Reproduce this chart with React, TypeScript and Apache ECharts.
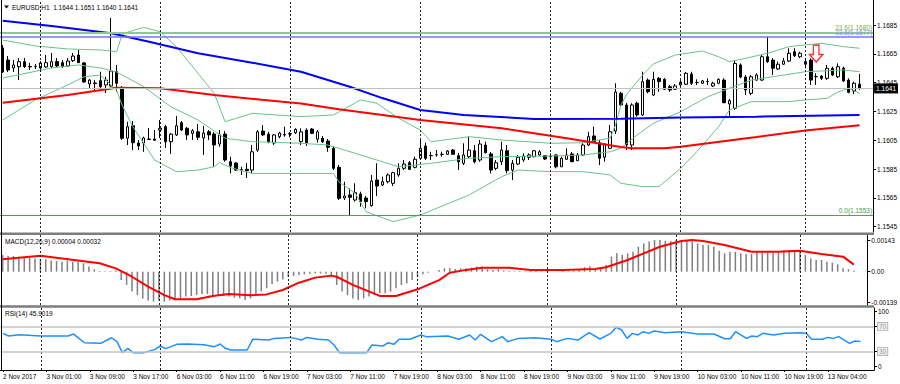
import React, { useEffect, useRef } from 'react';
import * as echarts from 'echarts';

// ---- time axis ----
const dayHours: [string, number, number][] = [
  ['2 Nov', 17, 23],
  ['3 Nov', 0, 21],
  ['6 Nov', 0, 23],
  ['7 Nov', 0, 23],
  ['8 Nov', 0, 23],
  ['9 Nov', 0, 23],
  ['10 Nov', 0, 22],
  ['13 Nov', 0, 12],
];
const firstLabel = '2 Nov 2017';
const xTickLabels = [
  '2 Nov 17:00', '3 Nov 01:00', '3 Nov 09:00', '3 Nov 17:00', '6 Nov 03:00', '6 Nov 11:00',
  '6 Nov 19:00', '7 Nov 03:00', '7 Nov 11:00', '7 Nov 19:00', '8 Nov 03:00', '8 Nov 11:00',
  '8 Nov 19:00', '9 Nov 03:00', '9 Nov 11:00', '9 Nov 19:00', '10 Nov 03:00', '10 Nov 11:00',
  '10 Nov 19:00', '13 Nov 04:00',
];

// ---- price candles (EURUSD H1) ----
const openP = [
  1.16691, 1.16607, 1.16552, 1.16561, 1.16596, 1.16562, 1.16561, 1.16552, 1.16559, 1.16561,
  1.16596, 1.16589, 1.16566, 1.16603, 1.16642, 1.16587, 1.16441, 1.16448, 1.16464, 1.16434,
  1.16427, 1.16526, 1.16413, 1.16064, 1.16151, 1.16031, 1.16031, 1.16055, 1.16059, 1.16121,
  1.16144, 1.16040, 1.16087, 1.16172, 1.16133, 1.16098, 1.16109, 1.16066, 1.16109, 1.16093,
  1.16024, 1.16093, 1.15901, 1.15892, 1.15843, 1.15848, 1.15843, 1.15982, 1.16114, 1.16093,
  1.16031, 1.16075, 1.16087, 1.16093, 1.16102, 1.16040, 1.16121, 1.16128, 1.16057, 1.16064,
  1.16045, 1.15994, 1.15862, 1.15649, 1.15670, 1.15635, 1.15677, 1.15649, 1.15596, 1.15774,
  1.15739, 1.15762, 1.15751, 1.15809, 1.15855, 1.15894, 1.15862, 1.15925, 1.16010, 1.15944,
  1.15948, 1.15953, 1.15953, 1.15982, 1.15943, 1.15890, 1.15936, 1.15977, 1.15913, 1.16017,
  1.15955, 1.15855, 1.15901, 1.15977, 1.15843, 1.15885, 1.15913, 1.15932, 1.15936, 1.15948,
  1.15943, 1.15936, 1.15948, 1.15866, 1.15918, 1.15955, 1.15908, 1.15948, 1.16017, 1.16080,
  1.16033, 1.15932, 1.15994, 1.16114, 1.16376, 1.16295, 1.16017, 1.16307, 1.16226, 1.16468,
  1.16364, 1.16480, 1.16473, 1.16422, 1.16404, 1.16434, 1.16439, 1.16510, 1.16450, 1.16446,
  1.16457, 1.16427, 1.16446, 1.16468, 1.16302, 1.16272, 1.16573, 1.16489, 1.16376, 1.16468,
  1.16468, 1.16630, 1.16607, 1.16545, 1.16578, 1.16600, 1.16665, 1.16630, 1.16578, 1.16607,
  1.16491, 1.16496, 1.16480, 1.16550, 1.16491, 1.16550, 1.16468, 1.16392, 1.16440,
];
const highP = [
  1.16712, 1.16635, 1.16607, 1.16621, 1.16621, 1.16587, 1.16580, 1.16600, 1.16642, 1.16656,
  1.16621, 1.16607, 1.16621, 1.16656, 1.16677, 1.16593, 1.16475, 1.16468, 1.16526, 1.16491,
  1.16899, 1.16573, 1.16427, 1.16179, 1.16184, 1.16052, 1.16075, 1.16135, 1.16121, 1.16191,
  1.16156, 1.16100, 1.16219, 1.16184, 1.16142, 1.16128, 1.16163, 1.16149, 1.16121, 1.16107,
  1.16121, 1.16114, 1.15936, 1.15899, 1.15866, 1.15892, 1.16017, 1.16121, 1.16156, 1.16109,
  1.16093, 1.16109, 1.16144, 1.16109, 1.16133, 1.16133, 1.16133, 1.16135, 1.16121, 1.16080,
  1.16059, 1.16010, 1.15878, 1.15762, 1.15716, 1.15751, 1.15693, 1.15663, 1.15809, 1.15890,
  1.15797, 1.15820, 1.15832, 1.15890, 1.15913, 1.15906, 1.15936, 1.16052, 1.16033, 1.15970,
  1.15982, 1.15970, 1.15982, 1.15989, 1.15962, 1.16029, 1.16075, 1.16017, 1.16052, 1.16040,
  1.15969, 1.15913, 1.16040, 1.16017, 1.15913, 1.15948, 1.15959, 1.15959, 1.15982, 1.15982,
  1.15948, 1.15959, 1.15953, 1.15936, 1.15994, 1.15969, 1.15962, 1.16029, 1.16109, 1.16144,
  1.16052, 1.16029, 1.16156, 1.16446, 1.16387, 1.16309, 1.16307, 1.16318, 1.16526, 1.16480,
  1.16526, 1.16489, 1.16482, 1.16434, 1.16441, 1.16468, 1.16524, 1.16526, 1.16473, 1.16468,
  1.16480, 1.16457, 1.16480, 1.16480, 1.16337, 1.16607, 1.16584, 1.16503, 1.16503, 1.16515,
  1.16642, 1.16769, 1.16621, 1.16596, 1.16621, 1.16689, 1.16689, 1.16665, 1.16619, 1.16619,
  1.16515, 1.16503, 1.16573, 1.16561, 1.16584, 1.16561, 1.16480, 1.16457, 1.16510,
];
const lowP = [
  1.16517, 1.16524, 1.16524, 1.16468, 1.16552, 1.16538, 1.16545, 1.16524, 1.16552, 1.16552,
  1.16559, 1.16552, 1.16559, 1.16593, 1.16587, 1.16448, 1.16413, 1.16399, 1.16413, 1.16378,
  1.16420, 1.16387, 1.16052, 1.16017, 1.15982, 1.15982, 1.15970, 1.16052, 1.16047, 1.16066,
  1.15996, 1.15955, 1.16080, 1.16114, 1.16052, 1.16052, 1.16052, 1.15948, 1.16052, 1.15866,
  1.16005, 1.15901, 1.15820, 1.15839, 1.15809, 1.15788, 1.15820, 1.15970, 1.16080, 1.16029,
  1.16017, 1.16064, 1.16075, 1.16071, 1.16093, 1.16017, 1.16010, 1.16093, 1.16033, 1.16031,
  1.15970, 1.15843, 1.15635, 1.15635, 1.15530, 1.15624, 1.15589, 1.15578, 1.15589, 1.15663,
  1.15732, 1.15751, 1.15732, 1.15797, 1.15843, 1.15843, 1.15855, 1.15913, 1.15913, 1.15913,
  1.15936, 1.15936, 1.15948, 1.15948, 1.15843, 1.15878, 1.15925, 1.15890, 1.15901, 1.15959,
  1.15820, 1.15843, 1.15878, 1.15820, 1.15774, 1.15878, 1.15901, 1.15913, 1.15932, 1.15941,
  1.15913, 1.15913, 1.15855, 1.15864, 1.15913, 1.15899, 1.15906, 1.15941, 1.16010, 1.16033,
  1.15878, 1.15901, 1.15994, 1.16093, 1.16288, 1.15982, 1.15982, 1.16214, 1.16219, 1.16376,
  1.16357, 1.16387, 1.16399, 1.16387, 1.16399, 1.16427, 1.16434, 1.16434, 1.16434, 1.16441,
  1.16434, 1.16420, 1.16439, 1.16307, 1.16214, 1.16260, 1.16480, 1.16364, 1.16364, 1.16462,
  1.16462, 1.16587, 1.16503, 1.16538, 1.16573, 1.16593, 1.16628, 1.16621, 1.16550, 1.16434,
  1.16434, 1.16468, 1.16468, 1.16496, 1.16482, 1.16455, 1.16376, 1.16371, 1.16400,
];
const closeP = [
  1.16524, 1.16538, 1.16573, 1.16596, 1.16561, 1.16559, 1.16562, 1.16587, 1.16589, 1.16596,
  1.16566, 1.16561, 1.16600, 1.16635, 1.16589, 1.16455, 1.16468, 1.16444, 1.16422, 1.16468,
  1.16531, 1.16446, 1.16064, 1.16144, 1.16033, 1.16010, 1.16066, 1.16059, 1.16050, 1.16133,
  1.16040, 1.16093, 1.16151, 1.16121, 1.16087, 1.16116, 1.16071, 1.16100, 1.16087, 1.16017,
  1.16087, 1.15913, 1.15871, 1.15843, 1.15847, 1.15839, 1.15970, 1.16109, 1.16087, 1.16040,
  1.16087, 1.16100, 1.16090, 1.16097, 1.16126, 1.16109, 1.16033, 1.16098, 1.16109, 1.16040,
  1.16001, 1.15855, 1.15647, 1.15663, 1.15654, 1.15686, 1.15624, 1.15624, 1.15767, 1.15732,
  1.15762, 1.15809, 1.15825, 1.15855, 1.15885, 1.15848, 1.15918, 1.15994, 1.15925, 1.15943,
  1.15950, 1.15951, 1.15975, 1.15953, 1.15901, 1.15948, 1.15982, 1.15901, 1.16024, 1.15964,
  1.15843, 1.15894, 1.15982, 1.15839, 1.15890, 1.15932, 1.15941, 1.15948, 1.15977, 1.15970,
  1.15920, 1.15937, 1.15866, 1.15925, 1.15948, 1.15901, 1.15948, 1.16017, 1.16075, 1.16040,
  1.15925, 1.16024, 1.16109, 1.16385, 1.16295, 1.16017, 1.16295, 1.16226, 1.16457, 1.16387,
  1.16473, 1.16457, 1.16404, 1.16399, 1.16427, 1.16453, 1.16515, 1.16446, 1.16451, 1.16462,
  1.16458, 1.16446, 1.16473, 1.16311, 1.16325, 1.16584, 1.16489, 1.16399, 1.16491, 1.16503,
  1.16630, 1.16596, 1.16550, 1.16578, 1.16600, 1.16654, 1.16637, 1.16654, 1.16596, 1.16468,
  1.16493, 1.16480, 1.16550, 1.16503, 1.16561, 1.16462, 1.16383, 1.16446, 1.16410,
];

// ---- overlays: [bar index, price] ----
const maBlue = [
  [0, 1.1688], [9, 1.16843], [20, 1.16793], [27, 1.16734], [36, 1.16654], [46, 1.16589],
  [55, 1.16526], [64, 1.16422], [70, 1.16343], [77, 1.1626], [85, 1.16226], [98, 1.16198],
  [114, 1.162], [125, 1.16208], [139, 1.16214], [158, 1.16226],
];
const maRed = [
  [0, 1.16311], [12, 1.16364], [21, 1.16415], [29, 1.16411], [39, 1.16364], [55, 1.16305],
  [62, 1.16265], [77, 1.16191], [92, 1.16133], [104, 1.16064], [114, 1.16003], [116, 1.15994],
  [122, 1.15994], [125, 1.16005], [139, 1.16073], [148, 1.16118], [158, 1.16154],
];
const bbUpper = [
  [0, 1.16746], [6, 1.16705], [12, 1.16684], [18, 1.16677], [21, 1.16665], [22, 1.16781],
  [23, 1.168], [26, 1.16834], [29, 1.16804], [32, 1.167], [36, 1.16515], [39, 1.16376],
  [41, 1.16179], [46, 1.16237], [55, 1.16214], [61, 1.16226], [66, 1.1633], [69, 1.16307],
  [73, 1.16203], [77, 1.16121], [79, 1.1604], [86, 1.16075], [92, 1.16052], [101, 1.16029],
  [107, 1.16033], [112, 1.16064], [113, 1.16156], [114, 1.16295], [115, 1.16364], [116, 1.16413],
  [118, 1.16503], [120, 1.1658], [124, 1.16642], [129, 1.1667], [132, 1.1663], [134, 1.16596],
  [137, 1.16619], [141, 1.16654], [145, 1.167], [148, 1.16712], [151, 1.16723], [155, 1.167],
  [158, 1.16689],
];
const bbMiddle = [
  [0, 1.16482], [9, 1.16552], [14, 1.16573], [18, 1.16552], [21, 1.16524], [26, 1.16422],
  [31, 1.16283], [36, 1.16191], [41, 1.16064], [46, 1.1604], [55, 1.16029], [60, 1.16017],
  [62, 1.15994], [67, 1.15936], [73, 1.15866], [79, 1.1589], [86, 1.15925], [92, 1.15936],
  [101, 1.15941], [107, 1.15948], [112, 1.1597], [114, 1.15996], [117, 1.16087], [120, 1.16168],
  [125, 1.16248], [130, 1.16352], [134, 1.16411], [138, 1.16468], [142, 1.16491], [148, 1.16526],
  [151, 1.16531], [155, 1.16538], [158, 1.16526],
];
const bbLower = [
  [0, 1.16191], [6, 1.1633], [12, 1.16434], [15, 1.16491], [18, 1.16503], [21, 1.16399],
  [22, 1.16295], [24, 1.16144], [28, 1.15913], [32, 1.15832], [36, 1.15843], [39, 1.15866],
  [40, 1.15895], [42, 1.1586], [44, 1.1584], [46, 1.1582], [55, 1.1582], [61, 1.1582],
  [62, 1.1576], [65, 1.15682], [67, 1.15554], [72, 1.15485], [77, 1.15531], [86, 1.1567],
  [92, 1.15797], [95, 1.15843], [101, 1.15832], [107, 1.15832], [112, 1.15809], [114, 1.15751],
  [118, 1.15728], [121, 1.15728], [125, 1.15855], [128, 1.15971], [132, 1.16144], [134, 1.1626],
  [138, 1.16318], [145, 1.16318], [148, 1.1633], [152, 1.16341], [154, 1.16385], [156, 1.16411],
  [158, 1.16376],
];
const fibLines = [
  { text: '23.6(1.1680)', price: 1.168, color: '#8fc88f', textColor: '#86ad45', width: 2 },
  { text: '23.6(1.1677)', price: 1.16767, color: '#7474ff', textColor: '#8a8aff', width: 1.5 },
  { text: '0.0(1.1553)', price: 1.1553, color: '#52a052', textColor: '#4d9a4d', width: 1 },
];
const sellArrow = [[150, 1.16652]];
const priceTicks = [1.1545, 1.1565, 1.1585, 1.1605, 1.1625, 1.1645, 1.1665, 1.1685];

// ---- MACD(12,26,9) ----
const macdHist = [
  0.00075, 0.00071, 0.00071, 0.00068, 0.00065, 0.00063, 0.0006, 0.00057, 0.00056, 0.0005,
  0.00048, 0.00045, 0.0005, 0.00045, 0.00045, 0.00038, 0.00023, 0.00011, 0.00003, 0.00002,
  0.00003, 0.00005, -0.00038, -0.0006, -0.0009, -0.00106, -0.00121, -0.00131, -0.00136, -0.00131,
  -0.00136, -0.00131, -0.00121, -0.00121, -0.00113, -0.0011, -0.00106, -0.00101, -0.00101, -0.00106,
  -0.00106, -0.0011, -0.00113, -0.00118, -0.00121, -0.00128, -0.00121, -0.00106, -0.0009, -0.00075,
  -0.00056, -0.00045, -0.00035, -0.00023, -0.0002, -0.00015, -0.00012, -0.0001, -0.00008, -0.00008,
  -0.0001, -0.00018, -0.0006, -0.0009, -0.00106, -0.00121, -0.00128, -0.00121, -0.00113, -0.00106,
  -0.00098, -0.00098, -0.0009, -0.00075, -0.0006, -0.00053, -0.00038, -0.00023, -0.00012, -0.00005,
  0.0, 0.00008, 0.00015, 0.00015, 0.00012, 0.00015, 0.00015, 0.00018, 0.00023, 0.00023,
  0.00011, 0.00008, 0.00011, 0.00005, 0.00003, 0.00002, 0.00003, 0.00002, 0.00003, 0.00003,
  0.00002, 0.00002, 0.0, 0.00001, 0.00003, 0.00002, 0.00004, 0.0001, 0.0002, 0.00024,
  0.00014, 0.00015, 0.0003, 0.00068, 0.00083, 0.00075, 0.00083, 0.0009, 0.00113, 0.00128,
  0.00136, 0.00143, 0.00143, 0.0014, 0.00139, 0.00143, 0.00143, 0.00143, 0.00136, 0.00128,
  0.00121, 0.00121, 0.00113, 0.00095, 0.00083, 0.0009, 0.0009, 0.00083, 0.0008, 0.0008,
  0.0009, 0.00086, 0.00086, 0.00086, 0.00086, 0.00098, 0.00098, 0.0009, 0.00098, 0.00075,
  0.0006, 0.00053, 0.00053, 0.00045, 0.00041, 0.00033, 0.00015, 0.00011, 0.00004,
];
const macdSignal = [
  [0, 0.00056], [7, 0.00072], [14, 0.0005], [18, 0.00038], [21, 0.00015], [24, -0.00023],
  [27, -0.00068], [30, -0.00106], [32, -0.00125], [36, -0.00125], [39, -0.0011], [42, -0.00101],
  [46, -0.00107], [49, -0.00103], [52, -0.00083], [55, -0.0005], [58, -0.00027], [61, -0.00018],
  [62, -0.00023], [65, -0.0006], [70, -0.0011], [73, -0.0011], [77, -0.0008], [81, -0.00038],
  [83, -0.00005], [86, 0.00008], [89, 0.00018], [94, 0.00018], [98, 0.00008], [104, 0.00008],
  [110, 0.00012], [112, 0.0002], [116, 0.00053], [119, 0.00083], [122, 0.00113], [126, 0.00139],
  [128, 0.00143], [130, 0.00139], [134, 0.00121], [139, 0.0009], [144, 0.0009], [148, 0.00095],
  [152, 0.0008], [156, 0.00068], [158, 0.00032],
];
const macdTicks = [0.00143, 0, -0.00139];

// ---- RSI(14) ----
const rsiPts = [
  [0, 59.1], [1, 54.8], [3, 57], [7, 54.8], [12, 54.8], [13, 58], [14, 51], [15, 44], [18, 43],
  [20, 52], [21, 45.7], [22, 28], [23, 35], [24, 28], [26, 28], [28, 33.3], [29, 38.7], [30, 34.4],
  [32, 41.4], [34, 41.9], [37, 40.9], [39, 37.6], [40, 41.9], [41, 35], [42, 32.3], [45, 32.3],
  [46, 49.5], [49, 48.4], [50, 51], [53, 52.6], [55, 48.4], [56, 52.6], [58, 49.5], [60, 48.4],
  [61, 40.3], [62, 28], [64, 28], [67, 28], [68, 40.3], [70, 38.7], [71, 44], [72, 41.4],
  [73, 49.5], [75, 49.5], [77, 56.5], [78, 53.8], [82, 54.8], [84, 49.5], [86, 56.5], [87, 48.4],
  [88, 57.5], [90, 45.7], [92, 53.8], [93, 45.7], [95, 51], [98, 52], [101, 49.5], [102, 45.7],
  [104, 51], [106, 48.4], [108, 60.2], [110, 50], [112, 59.1], [113, 68.8], [114, 64.5], [115, 51],
  [116, 59.1], [117, 56.5], [118, 61.8], [119, 59.1], [120, 62.9], [122, 60.2], [125, 61.8],
  [127, 59.1], [128, 58.1], [131, 58.1], [133, 50.5], [134, 50.5], [135, 61.8], [137, 51],
  [138, 54.8], [139, 53.8], [140, 59.1], [142, 56.5], [144, 59.1], [147, 60.2], [148, 59.1],
  [149, 49.5], [151, 49.5], [152, 52.6], [153, 51], [154, 53.8], [156, 43], [157, 46.8], [158, 45.9019],
];
const rsiLevels = [70, 30];
// label slots: 0 and 100 are drawn just inside the panel edge, as in MetaTrader
const rsiLabelSlots = [6, 30, 70, 94];
const rsiLabelText: Record<number, string> = { 6: '0', 30: '30', 70: '70', 94: '100' };

const FONT = 'Liberation Sans, Arial, sans-serif';
const FS = 6.5;

export default function App() {
  const ref = useRef<HTMLDivElement>(null);
  useEffect(() => {
    document.body.style.margin = '0';
    const chart = echarts.init(ref.current!, null, { renderer: 'svg' });

    const categories: string[] = [];
    dayHours.forEach(([d, a, b]) => {
      for (let h = a; h <= b; h++) categories.push(`${d} ${h < 10 ? '0' + h : h}:00`);
    });
    const tickIdx = new Set(xTickLabels.map((l) => categories.indexOf(l)));
    const dayStarts = categories.map((c, i) => (c.endsWith(' 00:00') ? i : -1)).filter((i) => i >= 0);
    const dayLineData = dayStarts.map((i) => ({ xAxis: i }));
    const dayLineStyle = { color: '#000', width: 1, type: [2, 2] as any, opacity: 0.85 };

    const last = openP.length - 1;
    const candleData = openP.map((o, i) => [o, closeP[i], lowP[i], highP[i]]);

    const xAxis = [0, 1, 2].map((g) => ({
      type: 'category',
      gridIndex: g,
      data: categories,
      boundaryGap: true,
      axisLine: { show: g === 2, onZero: false, lineStyle: { color: '#000', width: 1 } },
      axisTick: {
        show: g === 2, alignWithLabel: true, length: 2,
        interval: (i: number) => tickIdx.has(i), lineStyle: { color: '#000' },
      },
      axisLabel: {
        show: g === 2, interval: (i: number) => tickIdx.has(i), align: 'left',
        fontSize: FS, color: '#000', margin: 3, fontFamily: FONT,
        formatter: (v: string) => (v === categories[0] ? firstLabel : v),
      },
      splitLine: { show: false },
      axisPointer: { show: false },
    }));

    const yCommon = {
      type: 'value',
      position: 'right',
      axisLine: { show: true, onZero: false, lineStyle: { color: '#000', width: 1 } },
      splitLine: { show: false },
    };

    const option: any = {
      animation: false,
      backgroundColor: '#fff',
      textStyle: { fontFamily: FONT },
      grid: [
        { left: 0, right: 26, top: 0, height: 232 },
        { left: 0, right: 26, top: 235, height: 70 },
        { left: 0, right: 26, top: 308, height: 62 },
      ],
      xAxis,
      yAxis: [
        {
          ...yCommon, gridIndex: 0, min: 1.15413, max: 1.17024,
          axisTick: { show: true, length: 3, customValues: priceTicks, lineStyle: { color: '#000' } },
          axisLabel: {
            customValues: priceTicks, formatter: (v: number) => v.toFixed(4),
            fontSize: FS, color: '#000', margin: 4, fontFamily: FONT,
          },
        },
        {
          ...yCommon, gridIndex: 1, min: -0.00151, max: 0.00166,
          axisTick: { show: true, length: 3, customValues: macdTicks, lineStyle: { color: '#000' } },
          axisLabel: {
            customValues: macdTicks,
            formatter: (v: number) => (v === 0 ? '0.00' : v.toFixed(5)),
            fontSize: FS, color: '#000', margin: 4, fontFamily: FONT,
          },
        },
        {
          ...yCommon, gridIndex: 2, min: 0, max: 100,
          axisTick: { show: true, length: 3, customValues: rsiLabelSlots, lineStyle: { color: '#000' } },
          axisLabel: {
            customValues: rsiLabelSlots,
            formatter: (v: number) => {
              const t = rsiLabelText[Math.round(v)] ?? String(v);
              return rsiLevels.includes(Math.round(v)) ? `{box|${t}}` : t;
            },
            fontSize: FS, color: '#000', margin: 4, fontFamily: FONT,
            rich: {
              box: {
                fontSize: FS, color: '#9a9a9a', backgroundColor: '#f0f0f0',
                borderColor: '#b8b8b8', borderWidth: 1, padding: [0, 1, 0, 1], fontFamily: FONT,
              },
            },
          },
        },
      ],
      series: [
        {
          type: 'candlestick', xAxisIndex: 0, yAxisIndex: 0, data: candleData, barWidth: 3,
          itemStyle: { color: '#fff', color0: '#000', borderColor: '#000', borderColor0: '#000', borderWidth: 1 },
          markLine: {
            symbol: ['none', 'none'], silent: true, animation: false, precision: 6,
            label: { show: false }, lineStyle: dayLineStyle,
            data: [
              ...dayLineData,
              {
                yAxis: closeP[last], lineStyle: { color: '#c0c0c0', width: 1, type: 'solid', opacity: 1 },
                label: {
                  show: true, position: 'end', distance: 1, formatter: closeP[last].toFixed(4),
                  color: '#fff', backgroundColor: '#000', padding: [2, 2, 1, 2], fontSize: FS, fontFamily: FONT,
                },
              },
              ...fibLines.map((f) => ({
                yAxis: f.price,
                lineStyle: { color: f.color, width: f.width, type: 'solid', opacity: 1 },
                label: {
                  show: true, position: 'insideEndTop', distance: 1, formatter: f.text,
                  color: f.textColor, fontSize: FS, fontFamily: FONT,
                },
              })),
            ],
          },
        },
        ...[bbUpper, bbMiddle, bbLower].map((d) => ({
          type: 'line', xAxisIndex: 0, yAxisIndex: 0, data: d, symbol: 'none',
          lineStyle: { color: '#67c38a', width: 1 }, silent: true,
        })),
        {
          type: 'line', xAxisIndex: 0, yAxisIndex: 0, data: maRed, symbol: 'none',
          lineStyle: { color: '#ff0000', width: 2 }, silent: true,
        },
        {
          type: 'line', xAxisIndex: 0, yAxisIndex: 0, data: maBlue, symbol: 'none',
          lineStyle: { color: '#0000ff', width: 2 }, silent: true,
        },
        {
          type: 'scatter', xAxisIndex: 0, yAxisIndex: 0, data: sellArrow,
          symbol: 'path://M4 0 H10 V10 H14 L7 18 L0 10 H4 Z', symbolSize: [13, 17],
          itemStyle: { color: '#fff', borderColor: '#ff0000', borderWidth: 1.5 }, silent: true,
        },
        {
          type: 'bar', xAxisIndex: 1, yAxisIndex: 1, data: macdHist, barWidth: 1.5,
          itemStyle: { color: '#7f7f7f' }, silent: true,
          markLine: {
            symbol: ['none', 'none'], silent: true, animation: false,
            label: { show: false }, lineStyle: dayLineStyle, data: dayLineData,
          },
        },
        {
          type: 'line', xAxisIndex: 1, yAxisIndex: 1, data: macdSignal, symbol: 'none',
          lineStyle: { color: '#ff0000', width: 2 }, silent: true,
        },
        {
          type: 'line', xAxisIndex: 2, yAxisIndex: 2, data: rsiPts, symbol: 'none',
          lineStyle: { color: '#1e90ff', width: 1.5 }, silent: true,
          markLine: {
            symbol: ['none', 'none'], silent: true, animation: false, precision: 4,
            label: { show: false }, lineStyle: dayLineStyle,
            data: [
              ...dayLineData,
              ...rsiLevels.map((v) => ({ yAxis: v, lineStyle: { color: '#c4c4c4', width: 1.5, type: 'solid', opacity: 1 } })),
            ],
          },
        },
      ],
      graphic: [
        { type: 'rect', shape: { x: 0, y: 232.5, width: 874, height: 2.5 }, style: { fill: '#7d7d7d' }, z: 100, silent: true },
        { type: 'rect', shape: { x: 0, y: 305.3, width: 874, height: 2.5 }, style: { fill: '#7d7d7d' }, z: 100, silent: true },
        { type: 'line', shape: { x1: 1.5, y1: 0, x2: 1.5, y2: 370 }, style: { stroke: '#000', lineWidth: 1 }, z: 100, silent: true },
        { type: 'polygon', shape: { points: [[4, 5.5], [9, 5.5], [6.5, 8.5]] }, style: { fill: '#000' }, z: 100, silent: true },
        {
          type: 'text', x: 12, y: 7.5, z: 100, silent: true,
          style: {
            text: `EURUSD,H1  ${openP[last].toFixed(4)} ${highP[last].toFixed(4)} ${lowP[last].toFixed(4)} ${closeP[last].toFixed(4)}`,
            fontSize: FS, fontFamily: FONT, fill: '#000', verticalAlign: 'middle', align: 'left',
          },
        },
        {
          type: 'text', x: 5, y: 241, z: 100, silent: true,
          style: {
            text: `MACD(12,26,9) ${macdHist[last].toFixed(5)} ${macdSignal[macdSignal.length - 1][1].toFixed(5)}`,
            fontSize: FS, fontFamily: FONT, fill: '#000', verticalAlign: 'middle', align: 'left',
          },
        },
        {
          type: 'text', x: 5, y: 313.5, z: 100, silent: true,
          style: {
            text: `RSI(14) ${rsiPts[rsiPts.length - 1][1].toFixed(4)}`,
            fontSize: FS, fontFamily: FONT, fill: '#000', verticalAlign: 'middle', align: 'left',
          },
        },
      ],
    };

    chart.setOption(option);
    return () => chart.dispose();
  }, []);

  return (
    <div
      ref={ref}
      style={{ position: 'absolute', left: 0, top: 0, width: 900, height: 384, background: '#fff' }}
    />
  );
}
